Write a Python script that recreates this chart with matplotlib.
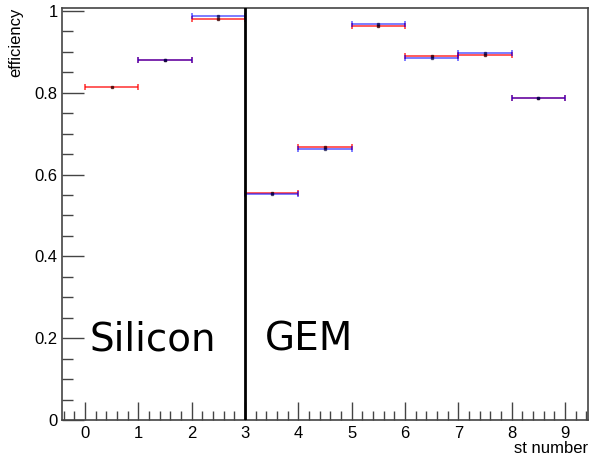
import matplotlib
matplotlib.use("Agg")
import matplotlib.pyplot as plt
from matplotlib.ticker import MultipleLocator
import numpy as np

# Data
stations = [0.5, 1.5, 2.5, 3.5, 4.5, 5.5, 6.5, 7.5, 8.5]
red_eff = [0.813, 0.879, 0.981, 0.556, 0.667, 0.964, 0.890, 0.892, 0.786]
blue_stations = [1.5, 2.5, 3.5, 4.5, 5.5, 6.5, 7.5, 8.5]
blue_eff = [0.879, 0.988, 0.553, 0.663, 0.969, 0.885, 0.897, 0.786]
xlabels = ["0", "1", "2", "3", "4", "5", "6", "7", "8", "9"]
ylabels = ["0", "0.2", "0.4", "0.6", "0.8", "1"]

plt.rcParams['font.family'] = ['Liberation Sans', 'DejaVu Sans']

fig = plt.figure(figsize=(5.9, 4.57), dpi=100)
W, H = 590, 457
ax = fig.add_axes([62 / W, (H - 420) / H, (588 - 62) / W, (420 - 8) / H])

ax.errorbar(stations, red_eff, xerr=0.5, fmt='s', color='red', ecolor='red',
            elinewidth=1.2, capsize=2, capthick=1.2, markersize=2,
            markerfacecolor='#400000', markeredgecolor='#400000', alpha=0.75, zorder=3)
ax.errorbar(blue_stations, blue_eff, xerr=0.5, fmt='s', color='blue', ecolor='blue',
            elinewidth=1.2, capsize=2, capthick=1.2, markersize=2,
            markerfacecolor='#000040', markeredgecolor='#000040', alpha=0.6, zorder=4)

ax.set_xlim(-0.43, 9.43)
ax.set_ylim(0, 1.007)

ax.plot([3, 3], [0, 1.007], color='black', lw=2, zorder=5)

ax.text(0.09, 0.169, "Silicon", fontsize=28, family=['DejaVu Sans'], ha='left',
        va='baseline')
ax.text(3.38, 0.169, "GEM", fontsize=28, family=['DejaVu Sans'], ha='left',
        va='baseline')

ax.set_xticks(range(len(xlabels)))
ax.set_xticklabels(xlabels)
ax.set_yticks([0, 0.2, 0.4, 0.6, 0.8, 1.0])
ax.set_yticklabels(ylabels)
ax.xaxis.set_minor_locator(MultipleLocator(0.2))
ax.yaxis.set_minor_locator(MultipleLocator(0.05))
ax.tick_params(axis='x', which='major', direction='in', length=13, width=1,
               color='#444444', labelsize=12, pad=4)
ax.tick_params(axis='x', which='minor', direction='in', length=6.5, width=1, color='#444444')
ax.tick_params(axis='y', which='major', direction='in', length=16, width=1,
               color='#444444', labelsize=12, pad=3)
ax.tick_params(axis='y', which='minor', direction='in', length=8, width=1, color='#444444')

for s in ax.spines.values():
    s.set_color('#444444')
    s.set_linewidth(1.2)

ax.set_xlabel("st number", fontsize=12, loc='right')
ax.xaxis.set_label_coords(1.0, -0.051)
ax.set_ylabel("efficiency", fontsize=12, loc='top', labelpad=8)

fig.savefig("out.png", dpi=100)
